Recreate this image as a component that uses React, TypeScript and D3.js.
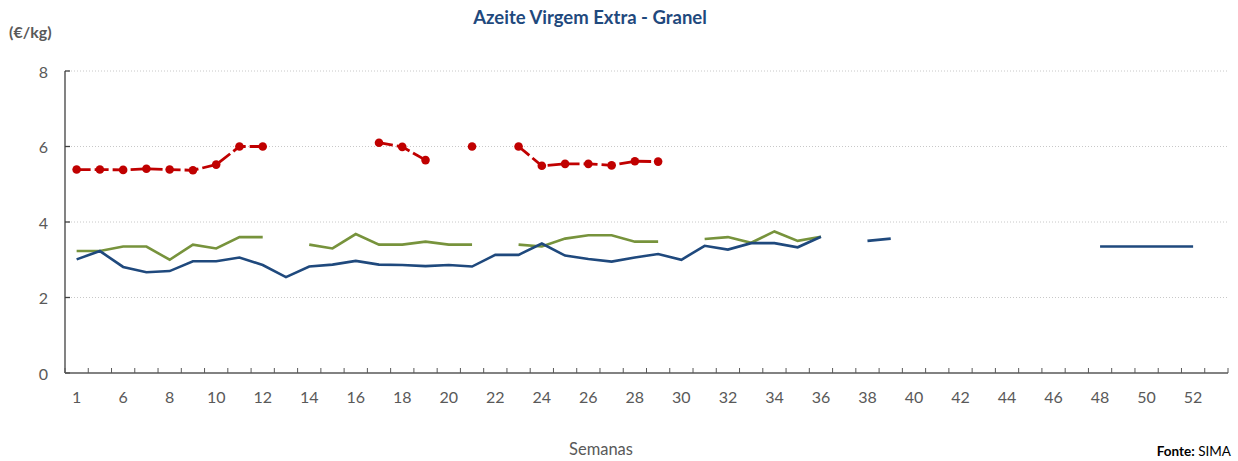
import React, { useMemo } from "react";
import * as d3 from "d3";

const WIDTH = 1238;
const HEIGHT = 461;
const MARGIN = { top: 71, right: 10, bottom: 88, left: 65 };
const FONT = "Lato, 'Open Sans', sans-serif";

// semanas (a segunda categoria não tem rótulo visível)
const weeks = [
  "1", "5", "6", "7", "8", "9", "10", "11", "12", "13", "14", "15", "16",
  "17", "18", "19", "20", "21", "22", "23", "24", "25", "26", "27", "28",
  "29", "30", "31", "32", "33", "34", "35", "36", "37", "38", "39", "40",
  "41", "42", "43", "44", "45", "46", "47", "48", "49", "50", "51", "52", "53",
];

const redValues: (number | null)[] = [
  5.39, 5.39, 5.38, 5.41, 5.39, 5.37, 5.52, 6.0, 6.0, null, null, null, null,
  6.1, 5.99, 5.64, null, 6.0, null, 6.0, 5.49, 5.54, 5.54, 5.5, 5.61,
  5.6, null, null, null, null, null, null, null, null, null, null, null,
  null, null, null, null, null, null, null, null, null, null, null, null, null,
];

const greenValues: (number | null)[] = [
  3.23, 3.23, 3.35, 3.35, 3.0, 3.4, 3.3, 3.6, 3.6, null, 3.4, 3.3, 3.68,
  3.4, 3.4, 3.48, 3.4, 3.4, null, 3.4, 3.35, 3.56, 3.65, 3.65, 3.48,
  3.48, null, 3.55, 3.6, 3.45, 3.75, 3.5, 3.61, null, null, null, null,
  null, null, null, null, null, null, null, null, null, null, null, null, null,
];

const blueValues: (number | null)[] = [
  3.01, 3.23, 2.81, 2.67, 2.7, 2.96, 2.96, 3.06, 2.86, 2.54, 2.82, 2.87, 2.97,
  2.87, 2.86, 2.83, 2.86, 2.82, 3.13, 3.13, 3.43, 3.11, 3.02, 2.95, 3.06,
  3.15, 3.0, 3.37, 3.27, 3.44, 3.44, 3.33, 3.61, null, 3.5, 3.56, null,
  null, null, null, null, null, null, null, 3.35, 3.35, 3.35, 3.35, 3.35, null,
];

const yTicks = [0, 2, 4, 6, 8];

export default function App() {
  const boundsWidth = WIDTH - MARGIN.left - MARGIN.right;
  const boundsHeight = HEIGHT - MARGIN.top - MARGIN.bottom;

  const xScale = useMemo(
    () => d3.scaleBand().domain(weeks).range([0, boundsWidth]).padding(0),
    [boundsWidth]
  );
  const yScale = useMemo(
    () => d3.scaleLinear().domain([0, 8]).range([boundsHeight, 0]),
    [boundsHeight]
  );

  const cx = (i: number) => (xScale(weeks[i]) ?? 0) + xScale.bandwidth() / 2;

  const line = d3
    .line<number | null>()
    .defined((d) => d !== null)
    .x((_, i) => cx(i))
    .y((d) => yScale(d as number));

  const grid = yTicks.map((v) => (
    <g key={v}>
      {v > 0 && (
        <line
          x1={0}
          x2={boundsWidth}
          y1={yScale(v)}
          y2={yScale(v)}
          stroke="#c8c8c8"
          strokeDasharray="1,2"
        />
      )}
      <line x1={0} x2={5} y1={yScale(v)} y2={yScale(v)} stroke="#404040" strokeWidth={1.3} />
      <text
        x={-17}
        y={yScale(v)}
        textAnchor="end"
        dominantBaseline="central"
        fontSize={16}
        fill="#595959"
      >
        {v}
      </text>
    </g>
  ));

  const xTicks = d3.range(weeks.length + 1).map((i) => {
    const x = i * xScale.bandwidth();
    return (
      <line key={i} x1={x} x2={x} y1={boundsHeight} y2={boundsHeight - 5} stroke="#595959" />
    );
  });

  const xLabels = weeks.map((w, i) =>
    i % 2 === 0 ? (
      <text
        key={w}
        x={cx(i)}
        y={boundsHeight + 30}
        textAnchor="middle"
        fontSize={16}
        fill="#595959"
      >
        {w}
      </text>
    ) : null
  );

  return (
    <svg
      width={WIDTH}
      height={HEIGHT}
      style={{ position: "absolute", left: 0, top: 0, background: "#fff" }}
      fontFamily={FONT}
    >
      <text x={590} y={24} textAnchor="middle" fontSize={18.5} fontWeight="bold" fill="#1F497D">
        Azeite Virgem Extra - Granel
      </text>
      <text x={9} y={38} fontSize={16} fontWeight="bold" fill="#595959">
        (€/kg)
      </text>
      <g transform={`translate(${MARGIN.left},${MARGIN.top})`}>
        {grid}
        <line x1={0} x2={0} y1={0} y2={boundsHeight} stroke="#404040" strokeWidth={1.3} />
        <line x1={0} x2={boundsWidth} y1={boundsHeight} y2={boundsHeight} stroke="#595959" strokeWidth={1.3} />
        {xTicks}
        {xLabels}
        <path d={line(greenValues) ?? ""} fill="none" stroke="#77933C" strokeWidth={2.6} />
        <path d={line(blueValues) ?? ""} fill="none" stroke="#1F497D" strokeWidth={2.6} />
        <path
          d={line(redValues) ?? ""}
          fill="none"
          stroke="#C00000"
          strokeWidth={2.8}
          strokeDasharray="14,4"
        />
        {redValues.map((v, i) =>
          v === null ? null : (
            <circle key={i} cx={cx(i)} cy={yScale(v)} r={4.3} fill="#C00000" />
          )
        )}
      </g>
      <text x={601} y={455} textAnchor="middle" fontSize={16.5} fill="#595959">
        Semanas
      </text>
      <text x={1231} y={456} textAnchor="end" fontSize={13.5} fill="#000">
        <tspan fontWeight="bold">Fonte:</tspan> SIMA
      </text>
    </svg>
  );
}
